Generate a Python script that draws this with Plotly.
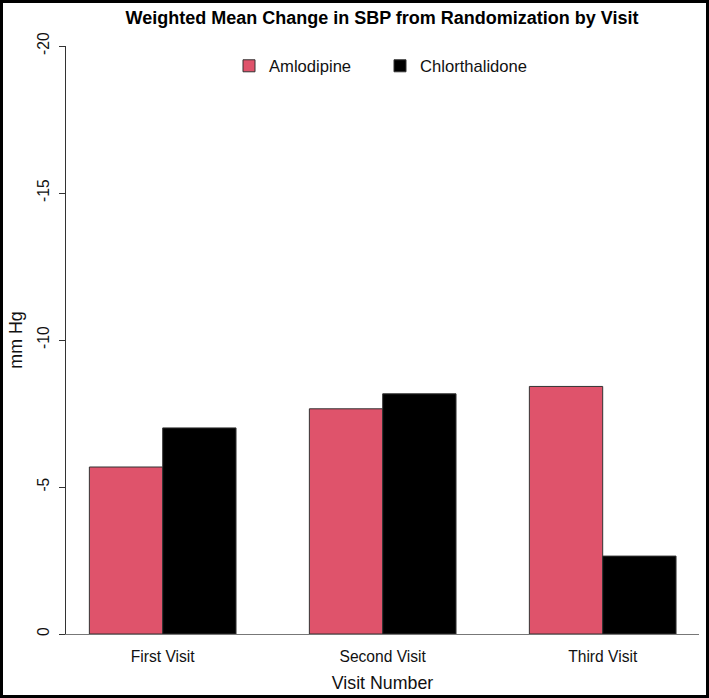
import plotly.graph_objects as go

visits = ["First Visit", "Second Visit", "Third Visit"]
amlodipine = [-5.68, -7.66, -8.42]
chlorthalidone = [-7.01, -8.17, -2.65]
y_ticks = [0, -5, -10, -15, -20]

W, H = 709, 698
L, R, T, B = 66, 10, 46, 64
pw, ph = W - L - R, H - T - B

def px_x(p):
    return (p - L) / pw

def px_y(p):
    return (H - B - p) / ph

font = "Liberation Sans, Arial, sans-serif"

fig = go.Figure()
fig.add_trace(go.Bar(x=visits, y=amlodipine, name="Amlodipine",
                     marker=dict(color="#DF536B", line=dict(color="#333333", width=1))))
fig.add_trace(go.Bar(x=visits, y=chlorthalidone, name="Chlorthalidone",
                     marker=dict(color="#000000", line=dict(color="#333333", width=1))))

fig.update_layout(
    width=W, height=H,
    margin=dict(l=L, r=R, t=T, b=B, autoexpand=False),
    paper_bgcolor="white", plot_bgcolor="white",
    font=dict(family=font, color="#111111", size=15.6),
    barmode="group", bargap=1/3, bargroupgap=0,
    title=dict(text="<b>Weighted Mean Change in SBP from Randomization by Visit</b>",
               x=382 / W, xanchor="center", y=1 - 18 / H, yanchor="middle",
               font=dict(size=18, family=font, color="#000000")),
    showlegend=True,
    legend=dict(orientation="h", x=px_x(229), xanchor="left", y=px_y(66), yanchor="middle",
                font=dict(size=16.6), bgcolor="rgba(0,0,0,0)", entrywidth=106, entrywidthmode="pixels"),
    xaxis=dict(type="category", range=[-0.4395, 2.4377], showline=True, linecolor="#777777",
               linewidth=1, ticks="", showgrid=False, zeroline=False, automargin=False,
               tickfont=dict(size=15.6), ticklabelstandoff=8,
               title=dict(text="Visit Number", font=dict(size=17.8), standoff=12)),
    yaxis=dict(range=[0, -20], tickvals=y_ticks, ticktext=[str(v) for v in y_ticks],
               ticks="outside", ticklen=6, tickcolor="#333333", tickangle=-90,
               showline=True, linecolor="#333333", linewidth=1, showgrid=False, zeroline=False,
               automargin=False, tickfont=dict(size=15.6), ticklabelstandoff=4,
               title=dict(text="mm Hg", font=dict(size=17.8), standoff=7)),
)

fig.add_shape(type="rect", xref="paper", yref="paper",
              x0=px_x(1.5), x1=px_x(707.5), y0=px_y(696.5), y1=px_y(1.5),
              line=dict(color="black", width=3), fillcolor="rgba(0,0,0,0)", layer="above")

fig.write_html("out.html", config={"displayModeBar": False},
               post_script="document.body.style.margin='0';")
